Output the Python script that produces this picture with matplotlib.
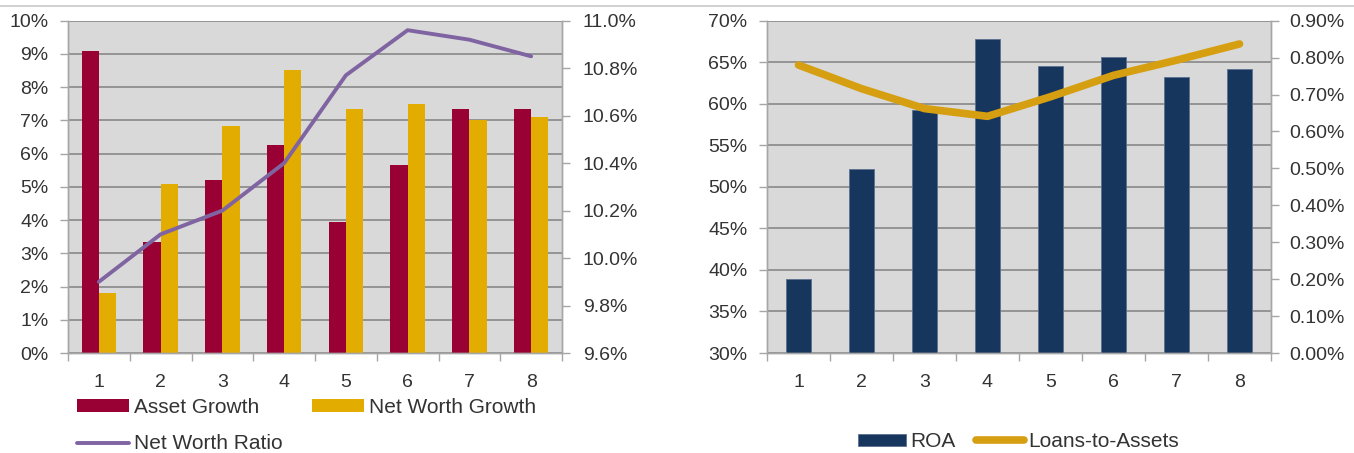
import matplotlib.pyplot as plt
import numpy as np
from matplotlib.lines import Line2D
from matplotlib.ticker import FuncFormatter, MultipleLocator

plt.rcParams['font.family'] = ['Liberation Sans', 'DejaVu Sans']

# data
periods = [1, 2, 3, 4, 5, 6, 7, 8]
asset_growth = [9.1, 3.35, 5.2, 6.25, 3.93, 5.67, 7.33, 7.33]
net_worth_growth = [1.82, 5.1, 6.82, 8.52, 7.33, 7.48, 7.0, 7.1]
net_worth_ratio = [9.90, 10.10, 10.20, 10.40, 10.77, 10.96, 10.92, 10.85]
roa = [38.85, 52.1, 59.3, 67.75, 64.6, 65.6, 63.25, 64.2]
loans_to_assets = [0.78, 0.716, 0.662, 0.641, 0.694, 0.752, 0.793, 0.837]

RED = '#990033'
YELLOW = '#E3AC00'
PURPLE = '#8064A2'
NAVY = '#17365D'
GOLD = '#D69F12'
BG = '#D9D9D9'
GRID = '#888888'
SPINE = '#A6A6A6'
TXT = '#333333'
TICK_FS = 14
LEG_FS = 15

W, H = 1354, 453
fig = plt.figure(figsize=(W / 100, H / 100), dpi=100)


def style_axes(ax, ax2):
    ax.set_facecolor(BG)
    ax.set_axisbelow(True)
    ax.yaxis.grid(True, color=GRID, linewidth=1.2)
    ax.set_xlim(0.5, 8.5)
    ax.set_xticks(periods)
    ax.set_xticks(np.arange(0.5, 9, 1), minor=True)
    ax.tick_params(axis='x', which='major', length=0, pad=15, labelsize=TICK_FS, labelcolor=TXT)
    ax.tick_params(axis='x', which='minor', length=6, width=1, color=SPINE)
    ax.tick_params(axis='y', length=6, width=1, color=SPINE, pad=8, labelsize=TICK_FS, labelcolor=TXT)
    ax2.tick_params(axis='y', length=6, width=1, color=SPINE, pad=9, labelsize=TICK_FS, labelcolor=TXT)
    for a in (ax, ax2):
        for s in a.spines.values():
            s.set_color(SPINE)
            s.set_linewidth(1)
        a.spines['top'].set_visible(False)


# ---- left chart: growth bars + net worth ratio ----
ax1 = fig.add_axes([68 / W, 100 / H, 494 / W, 332.3 / H])
ax1r = ax1.twinx()
x = np.array(periods)
bw = 0.28
b1 = ax1.bar(x - bw / 2, asset_growth, bw, color=RED, label='Asset Growth')
b2 = ax1.bar(x + bw / 2, net_worth_growth, bw, color=YELLOW, label='Net Worth Growth')
l1, = ax1r.plot(x, net_worth_ratio, color=PURPLE, linewidth=2.8,
                solid_capstyle='round', solid_joinstyle='round', label='Net Worth Ratio')
ax1.set_ylim(0, 10)
ax1.yaxis.set_major_locator(MultipleLocator(1))
ax1.yaxis.set_major_formatter(FuncFormatter(lambda v, p: f'{v:.0f}%'))
ax1r.set_ylim(9.6, 11.0)
ax1r.set_yticks(np.arange(9.6, 11.01, 0.2))
ax1r.yaxis.set_major_formatter(FuncFormatter(lambda v, p: f'{v:.1f}%'))
style_axes(ax1, ax1r)

fig.legend([b1, l1, b2], ['Asset Growth', 'Net Worth Ratio', 'Net Worth Growth'],
           ncol=2, loc='center left', bbox_to_anchor=(77 / W, 1 - 425.5 / H),
           frameon=False, fontsize=LEG_FS, handlelength=2.5, handleheight=0.55,
           handletextpad=0.25, columnspacing=1.4, labelspacing=0.85, borderpad=0,
           borderaxespad=0, labelcolor=TXT)

# ---- right chart: ROA bars + loans-to-assets ----
ax2 = fig.add_axes([767 / W, 100 / H, 504 / W, 332.3 / H])
ax2r = ax2.twinx()
b3 = ax2.bar(x, roa, 0.4, color=NAVY, edgecolor='#5C7090', linewidth=0.6, label='ROA')
l2, = ax2r.plot(x, loans_to_assets, color=GOLD, linewidth=5.5,
                solid_capstyle='round', solid_joinstyle='round', label='Loans-to-Assets')
ax2.set_ylim(30, 70)
ax2.yaxis.set_major_locator(MultipleLocator(5))
ax2.yaxis.set_major_formatter(FuncFormatter(lambda v, p: f'{v:.0f}%'))
ax2r.set_ylim(0, 0.9)
ax2r.set_yticks(np.arange(0, 0.91, 0.1))
ax2r.yaxis.set_major_formatter(FuncFormatter(lambda v, p: f'{v:.2f}%'))
style_axes(ax2, ax2r)
ax2r.tick_params(axis='y', pad=7)

fig.legend([b3, l2], ['ROA', 'Loans-to-Assets'], ncol=2, loc='center left',
           bbox_to_anchor=(858 / W, 1 - 441.5 / H), frameon=False, fontsize=LEG_FS,
           handlelength=2.3, handleheight=0.5, handletextpad=0.2, columnspacing=1.0,
           borderpad=0, borderaxespad=0, labelcolor=TXT)

# thin separator line along the top
fig.add_artist(Line2D([0, 1], [1 - 6 / H, 1 - 6 / H], color='#C8C8C8', linewidth=1.2))

fig.savefig('out.png', dpi=100)
